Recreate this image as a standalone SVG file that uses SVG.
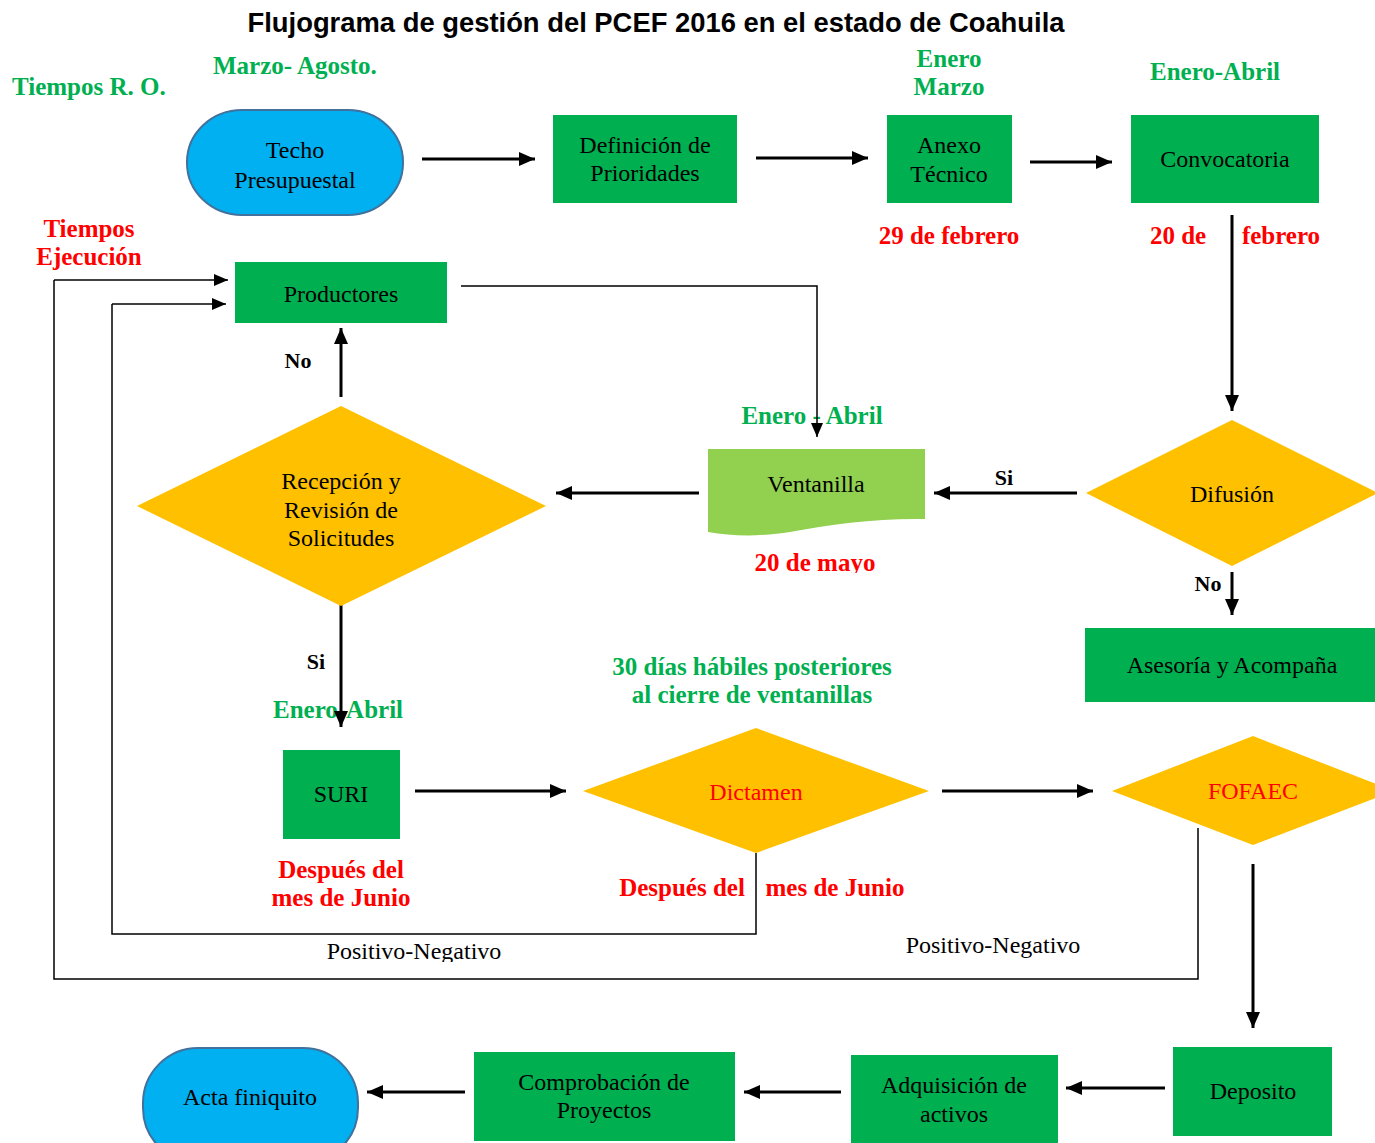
<svg xmlns="http://www.w3.org/2000/svg" width="1375" height="1143" viewBox="0 0 1375 1143">
<style>
.t{font-family:"Liberation Serif","DejaVu Serif",serif;font-size:24px;fill:#000;text-anchor:middle}
.g{font-family:"Liberation Serif","DejaVu Serif",serif;font-size:25px;font-weight:bold;fill:#00B050}
.r{font-family:"Liberation Serif","DejaVu Serif",serif;font-size:25px;font-weight:bold;fill:#FF0000}
.b{font-family:"Liberation Serif","DejaVu Serif",serif;font-size:22px;font-weight:bold;fill:#000}
.n{font-family:"Liberation Serif","DejaVu Serif",serif;font-size:24px;fill:#000}
.green{fill:#00B050}
.yellow{fill:#FFC000}
.blue{fill:#00B0F0;stroke:#41719C;stroke-width:2}
.lg{fill:#92D050}
.a{fill:none;stroke:#000;stroke-width:3;marker-end:url(#ah)}
.l{fill:none;stroke:#000;stroke-width:1.5}
.la{fill:none;stroke:#000;stroke-width:1.5;marker-end:url(#ah2)}
</style>
<defs>
<marker id="ah" viewBox="0 0 16 14" refX="16" refY="7" markerWidth="16" markerHeight="14" markerUnits="userSpaceOnUse" orient="auto">
<path d="M0,0 L16,7 L0,14 z" fill="#000"/>
</marker>
<marker id="ah2" viewBox="0 0 14 12" refX="14" refY="6" markerWidth="14" markerHeight="12" markerUnits="userSpaceOnUse" orient="auto">
<path d="M0,0 L14,6 L0,12 z" fill="#000"/>
</marker>
<clipPath id="c1"><rect x="0" y="0" width="1375" height="246"/></clipPath>
<clipPath id="c2"><rect x="0" y="0" width="1375" height="370"/></clipPath>
<clipPath id="c3"><rect x="0" y="0" width="1375" height="426"/></clipPath>
<clipPath id="c4"><rect x="0" y="0" width="1375" height="487"/></clipPath>
<clipPath id="c5"><rect x="0" y="0" width="1375" height="573"/></clipPath>
<clipPath id="c6"><rect x="0" y="0" width="1375" height="593"/></clipPath>
<clipPath id="c7"><rect x="0" y="0" width="1375" height="671"/></clipPath>
<clipPath id="c8"><rect x="0" y="0" width="1375" height="962"/></clipPath>
</defs>
<rect width="1375" height="1143" fill="#fff"/>

<text x="656" y="32" text-anchor="middle" textLength="817" lengthAdjust="spacingAndGlyphs" style="font-family:'Liberation Sans',Arial,sans-serif;font-size:28px;font-weight:bold;fill:#000">Flujograma de gestión del PCEF 2016 en el estado de Coahuila</text>

<g id="labels">
<text class="g" x="12" y="95">Tiempos R. O.</text>
<text class="g" x="213" y="74">Marzo- Agosto.</text>
<text class="g" x="949" y="67" text-anchor="middle">Enero</text>
<text class="g" x="949" y="95" text-anchor="middle">Marzo</text>
<text class="g" x="1215" y="80" text-anchor="middle">Enero-Abril</text>
<text class="r" x="949" y="244" text-anchor="middle" clip-path="url(#c1)">29 de febrero</text>
<text class="r" x="1178" y="244" text-anchor="middle" clip-path="url(#c1)">20 de</text>
<text class="r" x="1281" y="244" text-anchor="middle" clip-path="url(#c1)">febrero</text>
<text class="r" x="89" y="237" text-anchor="middle">Tiempos</text>
<text class="r" x="89" y="265" text-anchor="middle">Ejecución</text>
<text class="b" x="298" y="368" text-anchor="middle" clip-path="url(#c2)">No</text>
<text class="g" x="812" y="424" text-anchor="middle" clip-path="url(#c3)">Enero - Abril</text>
<text class="b" x="1004" y="485" text-anchor="middle" clip-path="url(#c4)">Si</text>
<text class="r" x="815" y="571" text-anchor="middle" clip-path="url(#c5)">20 de mayo</text>
<text class="b" x="1208" y="591" text-anchor="middle" clip-path="url(#c6)">No</text>
<text class="b" x="316" y="669" text-anchor="middle" clip-path="url(#c7)">Si</text>
<text class="g" x="338" y="718" text-anchor="middle">Enero-Abril</text>
<text class="g" x="752" y="675" text-anchor="middle">30 días hábiles posteriores</text>
<text class="g" x="752" y="703" text-anchor="middle">al cierre de ventanillas</text>
<text class="r" x="341" y="878" text-anchor="middle">Después del</text>
<text class="r" x="341" y="906" text-anchor="middle">mes de Junio</text>
<text class="r" x="682" y="896" text-anchor="middle">Después del</text>
<text class="r" x="835" y="896" text-anchor="middle">mes de Junio</text>
<text class="n" x="414" y="959" text-anchor="middle" clip-path="url(#c8)">Positivo-Negativo</text>
<text class="n" x="993" y="953" text-anchor="middle">Positivo-Negativo</text>
</g>

<g id="connectors">
<path class="a" d="M422,159 H535"/>
<path class="a" d="M756,158 H868"/>
<path class="a" d="M1030,162 H1112"/>
<path class="a" d="M1232,215 V411"/>
<path class="la" d="M461,286 H817 V437"/>
<path class="a" d="M1077,493 H934"/>
<path class="a" d="M699,493 H556"/>
<path class="a" d="M1232,572 V615"/>
<path class="a" d="M341,397 V328"/>
<path class="a" d="M341,602 V727"/>
<path class="a" d="M415,791 H566"/>
<path class="a" d="M942,791 H1093"/>
<path class="a" d="M1253,864 V1028"/>
<path class="l" d="M756,853 V934 H112 V304"/>
<path class="la" d="M112,304 H226"/>
<path class="l" d="M1198,828 V979 H54 V280"/>
<path class="la" d="M54,280 H228"/>
<path class="a" d="M1165,1088 H1066"/>
<path class="a" d="M841,1092 H744"/>
<path class="a" d="M465,1092 H367"/>
</g>

<g id="techo">
<rect class="blue" x="187" y="110" width="216" height="105" rx="55" ry="52"/>
<text class="t" x="295" y="158">Techo</text>
<text class="t" x="295" y="188">Presupuestal</text>
</g>
<g id="definicion">
<rect class="green" x="553" y="115" width="184" height="88"/>
<text class="t" x="645" y="153">Definición de</text>
<text class="t" x="645" y="181">Prioridades</text>
</g>
<g id="anexo">
<rect class="green" x="887" y="115" width="125" height="88"/>
<text class="t" x="949" y="153">Anexo</text>
<text class="t" x="949" y="182">Técnico</text>
</g>
<g id="convocatoria">
<rect class="green" x="1131" y="115" width="188" height="88"/>
<text class="t" x="1225" y="167">Convocatoria</text>
</g>
<g id="productores">
<rect class="green" x="235" y="262" width="212" height="61"/>
<text class="t" x="341" y="302">Productores</text>
</g>
<g id="recepcion">
<path class="yellow" d="M341,406 L546,506 L341,606 L137,506 Z"/>
<text class="t" x="341" y="489">Recepción y</text>
<text class="t" x="341" y="518">Revisión de</text>
<text class="t" x="341" y="546">Solicitudes</text>
</g>
<g id="ventanilla">
<path class="lg" d="M708,449 H925 V519 C880,518 830,524 790,532 C765,536 735,537 708,532 Z"/>
<text class="t" x="816" y="492">Ventanilla</text>
</g>
<g id="difusion">
<path class="yellow" d="M1232,420 L1378,493 L1232,566 L1086,493 Z"/>
<text class="t" x="1232" y="502">Difusión</text>
</g>
<g id="asesoria">
<rect class="green" x="1085" y="628" width="290" height="74"/>
<text class="t" x="1232" y="673">Asesoría y Acompaña</text>
</g>
<g id="suri">
<rect class="green" x="283" y="750" width="117" height="89"/>
<text class="t" x="341" y="802">SURI</text>
</g>
<g id="dictamen">
<path class="yellow" d="M756,728 L929,791 L756,853 L583,791 Z"/>
<text class="t" x="756" y="800" style="fill:#FF0000">Dictamen</text>
</g>
<g id="fofaec">
<path class="yellow" d="M1253,736 L1394,791 L1253,845 L1112,791 Z"/>
<text class="t" x="1253" y="799" style="fill:#FF0000">FOFAEC</text>
</g>
<g id="deposito">
<rect class="green" x="1173" y="1047" width="159" height="89"/>
<text class="t" x="1253" y="1099">Deposito</text>
</g>
<g id="adquisicion">
<rect class="green" x="851" y="1055" width="207" height="88"/>
<text class="t" x="954" y="1093">Adquisición de</text>
<text class="t" x="954" y="1122">activos</text>
</g>
<g id="comprobacion">
<rect class="green" x="474" y="1052" width="261" height="89"/>
<text class="t" x="604" y="1090">Comprobación de</text>
<text class="t" x="604" y="1118">Proyectos</text>
</g>
<g id="acta">
<rect class="blue" x="143" y="1048" width="215" height="115" rx="55" ry="55"/>
<text class="t" x="250" y="1105">Acta finiquito</text>
</g>
</svg>
